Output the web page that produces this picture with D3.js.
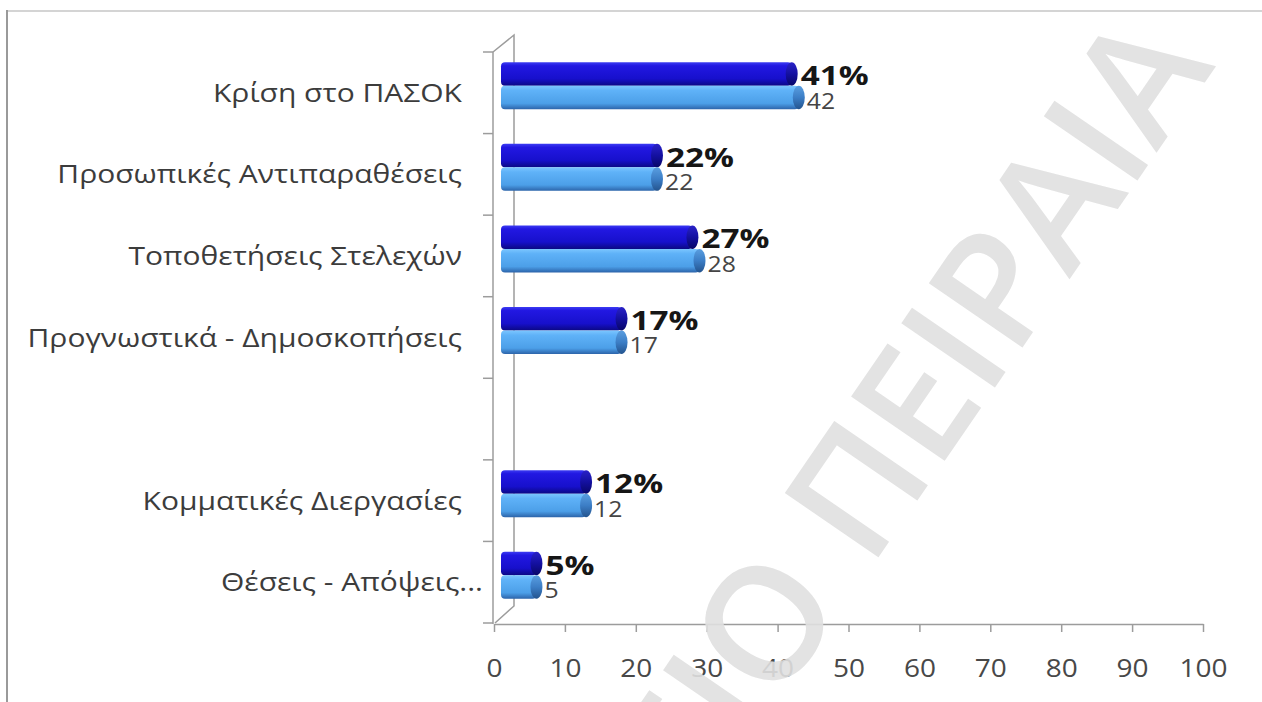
<!DOCTYPE html>
<html>
<head>
<meta charset="utf-8">
<script src="https://cdn.jsdelivr.net/npm/d3@7/dist/d3.min.js"></script>
<style>
  html, body { margin: 0; padding: 0; background: #fff; }
  svg { display: block; }
  text { font-family: "Open Sans", "Noto Sans", sans-serif; }
</style>
</head>
<body>
<svg id="chart" width="1262" height="702"></svg>
<script>
// Categories (the blank entry is an empty slot in the category axis)
const categories = [
  "Κρίση στο ΠΑΣΟΚ",
  "Προσωπικές Αντιπαραθέσεις",
  "Τοποθετήσεις Στελεχών",
  "Προγνωστικά - Δημοσκοπήσεις",
  "",
  "Κομματικές Διεργασίες",
  "Θέσεις - Απόψεις..."
];
// Percent series (dark bars, labelled with %)
const seriesPercent = [41, 22, 27, 17, null, 12, 5];
// Count series (light bars, plain labels)
const seriesCount = [42, 22, 28, 17, null, 12, 5];
// Value axis ticks
const xTicks = [0, 10, 20, 30, 40, 50, 60, 70, 80, 90, 100];

const svg = d3.select("#chart");
const W = 1262, H = 702;

// Frame lines
svg.append("line").attr("x1", 6).attr("x2", W).attr("y1", 11).attr("y2", 11)
  .attr("stroke", "#d4d4d4").attr("stroke-width", 2);
svg.append("line").attr("x1", 7).attr("x2", 7).attr("y1", 10).attr("y2", H)
  .attr("stroke", "#9a9a9a").attr("stroke-width", 2);

// Scales
const x = d3.scaleLinear().domain([0, 100]).range([494, 1203]);
const y = d3.scaleBand().domain(d3.range(categories.length))
  .range([52, 623]).paddingInner(0.424).paddingOuter(0.212);
const sub = d3.scaleBand().domain(["pct", "cnt"]).range([0, y.bandwidth()]);

// 3D depth offsets
const wallDx = 21, wallDy = -17;   // back wall
const barDx = 7, barDy = -7;       // bar depth
const capRx = 6;
// Wide lettering used throughout the chart
const stretch = 1.2;

// Gradients
const defs = svg.append("defs");
function grad(id, stops) {
  const g = defs.append("linearGradient").attr("id", id)
    .attr("x1", 0).attr("y1", 0).attr("x2", 0).attr("y2", 1);
  stops.forEach(s => g.append("stop").attr("offset", s[0]).attr("stop-color", s[1]));
}
grad("gDark", [[0, "#3c3cf2"], [0.15, "#2218e2"], [0.7, "#1710cc"], [1, "#0b0884"]]);
grad("gDarkCap", [[0, "#2a22c8"], [0.5, "#1410a0"], [1, "#080668"]]);
grad("gLight", [[0, "#7cc6ff"], [0.2, "#5fb2f8"], [0.75, "#4c9fe8"], [1, "#2c64aa"]]);
grad("gLightCap", [[0, "#5a9ee0"], [0.5, "#3c7ec6"], [1, "#24548e"]]);

// Walls (category axis with perspective)
const axisColor = "#9c9c9c";
const y0 = y.range()[0], y1 = y.range()[1];
const xa = x(0) - 1;
svg.append("path")
  .attr("d", `M${xa},${y0} L${xa + wallDx},${y0 + wallDy} L${xa + wallDx},${y1 + wallDy} L${xa + 2},${y1}`)
  .attr("fill", "none").attr("stroke", axisColor).attr("stroke-width", 1.5);
svg.append("line").attr("x1", xa).attr("x2", xa).attr("y1", y0).attr("y2", y1 + 1)
  .attr("stroke", axisColor).attr("stroke-width", 1.5);

// Category tick marks on band boundaries
const step = (y1 - y0) / categories.length;
svg.append("g").selectAll("line")
  .data(d3.range(categories.length + 1))
  .join("line")
  .attr("x1", xa - 10).attr("x2", xa)
  .attr("y1", i => y0 + i * step).attr("y2", i => y0 + i * step)
  .attr("stroke", axisColor).attr("stroke-width", 1.5);

// Category labels
svg.append("g").selectAll("text")
  .data(categories)
  .join("text")
  .attr("transform", (d, i) =>
    `translate(${d.endsWith("...") ? xa - 10 : xa - 31},${y0 + (i + 0.5) * step}) scale(${stretch},1)`)
  .attr("dy", "0.36em")
  .attr("text-anchor", "end")
  .attr("font-size", 25)
  .attr("fill", "#3c3c3c")
  .text(d => d);

// Value axis
const xAxis = svg.append("g")
  .attr("transform", `translate(0,${y1 + 1})`)
  .call(d3.axisBottom(x).tickValues(xTicks).tickSize(8).tickPadding(27).tickSizeOuter(0));
xAxis.select(".domain").attr("stroke", axisColor).attr("stroke-width", 1.5);
xAxis.selectAll(".tick line").attr("stroke", axisColor).attr("stroke-width", 1.5);
xAxis.selectAll(".tick text")
  .attr("font-size", 25).attr("fill", "#484848")
  .attr("font-family", "'Open Sans', sans-serif")
  .attr("transform", "scale(1.12,1)");

// Bars
function drawSeries(values, key, fill, capFill) {
  const g = svg.append("g");
  const data = values.map((v, i) => ({ v, i })).filter(d => d.v != null);
  const h = sub.bandwidth();
  g.selectAll("rect")
    .data(data)
    .join("rect")
    .attr("x", x(0) + barDx)
    .attr("y", d => y(d.i) + sub(key) + barDy)
    .attr("width", d => x(d.v) - x(0))
    .attr("height", h)
    .attr("rx", 4)
    .attr("fill", fill);
  g.selectAll("ellipse")
    .data(data)
    .join("ellipse")
    .attr("cx", d => x(d.v) + barDx)
    .attr("cy", d => y(d.i) + sub(key) + barDy + h / 2)
    .attr("rx", capRx)
    .attr("ry", h / 2)
    .attr("fill", capFill);
  return data;
}
const pctData = drawSeries(seriesPercent, "pct", "url(#gDark)", "url(#gDarkCap)");
const cntData = drawSeries(seriesCount, "cnt", "url(#gLight)", "url(#gLightCap)");

// Data labels
svg.append("g").selectAll("text")
  .data(pctData)
  .join("text")
  .attr("transform", d =>
    `translate(${x(d.v) + barDx + capRx + 3},${y(d.i) + sub("pct") + barDy + sub.bandwidth() - 0.5}) scale(1.28,1)`)
  .attr("font-size", 26)
  .attr("font-weight", 700)
  .attr("fill", "#161616")
  .text(d => d.v + "%");
svg.append("g").selectAll("text")
  .data(cntData)
  .join("text")
  .attr("transform", d =>
    `translate(${x(d.v) + barDx + capRx + 2},${y(d.i) + sub("cnt") + barDy + sub.bandwidth() - 0.5}) scale(1.18,1)`)
  .attr("font-size", 21)
  .attr("fill", "#454545")
  .text(d => d.v);

// Watermark
svg.append("text")
  .attr("transform", "translate(1216,66) rotate(-55.5)")
  .attr("text-anchor", "end")
  .attr("font-size", 159)
  .attr("font-weight", 600)
  .attr("fill", "#e0e0e0")
  .attr("opacity", 0.9)
  .text("ΑΡΧΕΙΟ ΠΕΙΡΑΙΑ");
</script>
</body>
</html>
